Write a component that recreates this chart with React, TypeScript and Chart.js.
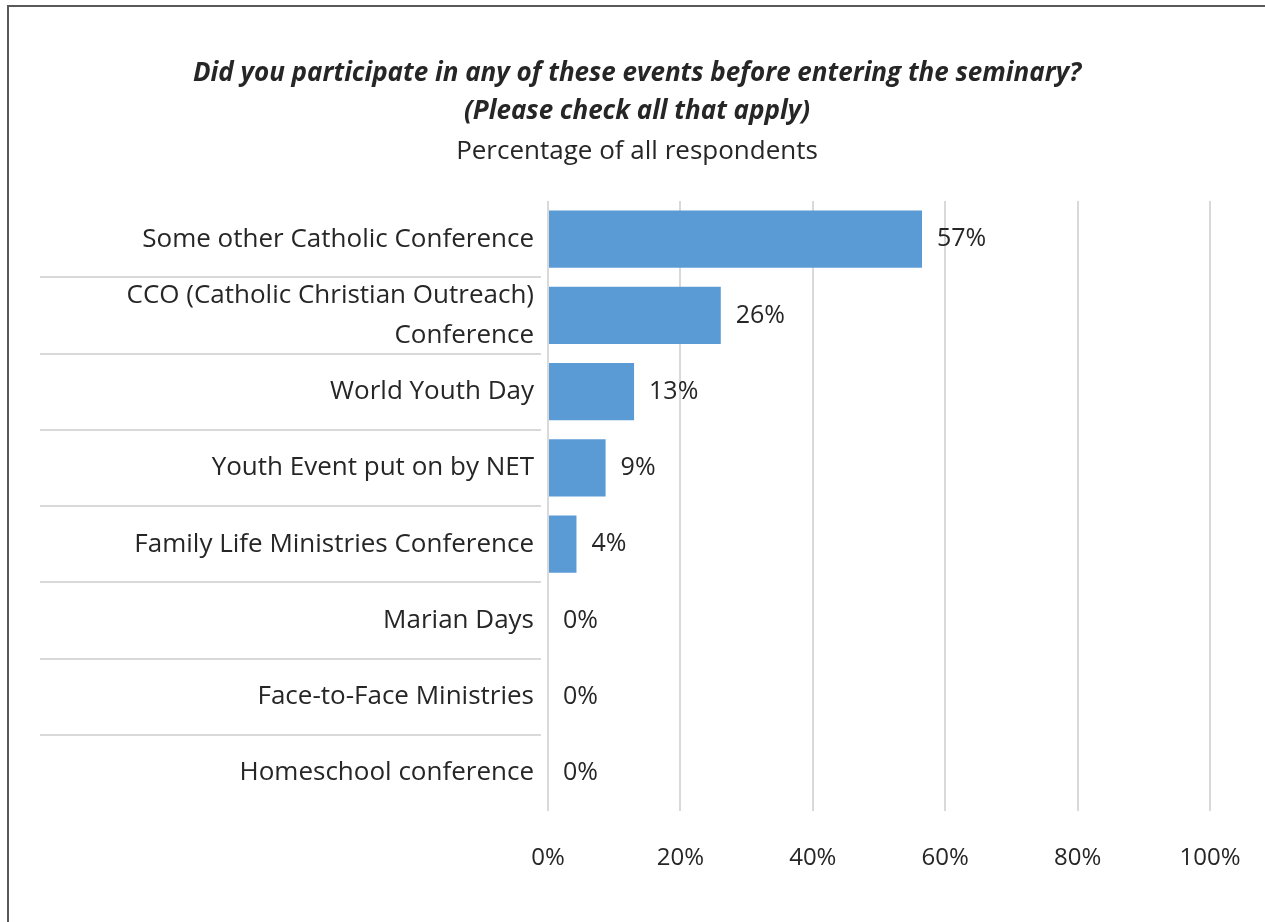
import React, { useEffect, useRef } from "react";
import { Chart, registerables } from "chart.js";

Chart.register(...registerables);

const categories: (string | string[])[] = [
  "Some other Catholic Conference",
  ["CCO (Catholic Christian Outreach)", "Conference"],
  "World Youth Day",
  "Youth Event put on by NET",
  "Family Life Ministries Conference",
  "Marian Days",
  "Face-to-Face Ministries",
  "Homeschool conference",
];
const values: number[] = [56.5, 26.1, 13.0, 8.7, 4.3, 0, 0, 0];
const valueLabels: string[] = ["57%", "26%", "13%", "9%", "4%", "0%", "0%", "0%"];
const xTicks: number[] = [0, 20, 40, 60, 80, 100];

const titleLines = [
  "Did you participate in any of these events before entering the seminary?",
  "(Please check all that apply)",
];
const subtitleText = "Percentage of all respondents";

const FONT = "'Open Sans', sans-serif";
const TEXT = "#262626";
const GRID = "#d9d9d9";
const BAR = "#5b9bd5";
const PAD_LEFT = 64;

const decorPlugin = {
  id: "decor",
  beforeDraw(chart: any) {
    const ctx = chart.ctx;
    ctx.save();
    ctx.fillStyle = "#ffffff";
    ctx.fillRect(0, 0, chart.width, chart.height);
    ctx.strokeStyle = "#595959";
    ctx.lineWidth = 2;
    ctx.strokeRect(8, 6, chart.width + 20, chart.height + 20);
    const y = chart.scales.y;
    const n = categories.length;
    ctx.strokeStyle = GRID;
    ctx.lineWidth = 2;
    for (let i = 0; i < n - 1; i++) {
      const yy = (y.getPixelForValue(i) + y.getPixelForValue(i + 1)) / 2;
      ctx.beginPath();
      ctx.moveTo(40, Math.round(yy));
      ctx.lineTo(chart.chartArea.left - 7, Math.round(yy));
      ctx.stroke();
    }
    ctx.restore();
  },
  afterDatasetsDraw(chart: any) {
    const ctx = chart.ctx;
    const meta = chart.getDatasetMeta(0);
    ctx.save();
    ctx.fillStyle = TEXT;
    ctx.font = `25px ${FONT}`;
    ctx.textAlign = "left";
    ctx.textBaseline = "middle";
    meta.data.forEach((bar: any, i: number) => {
      ctx.fillText(valueLabels[i], bar.x + 15, bar.y);
    });
    ctx.restore();
  },
};

export default function App() {
  const ref = useRef<HTMLCanvasElement | null>(null);
  useEffect(() => {
    document.body.style.margin = "0";
    const canvas = ref.current;
    if (!canvas) return;
    const chart = new Chart(canvas, {
      type: "bar",
      data: {
        labels: categories,
        datasets: [
          {
            data: values,
            backgroundColor: BAR,
            borderWidth: 0,
            barPercentage: 0.75,
            categoryPercentage: 1,
          },
        ],
      },
      options: {
        indexAxis: "y",
        responsive: false,
        animation: false,
        layout: { padding: { left: PAD_LEFT, right: 55, top: 52, bottom: 0 } },
        plugins: {
          legend: { display: false },
          tooltip: { enabled: false },
          title: {
            display: true,
            text: titleLines,
            color: TEXT,
            font: { family: FONT, size: 26, style: "italic", weight: "bold", lineHeight: 38 / 26 },
            padding: { top: 3, bottom: 2 },
          },
          subtitle: {
            display: true,
            text: subtitleText,
            color: TEXT,
            font: { family: FONT, size: 26, lineHeight: 33 / 26 },
            padding: { top: 2, bottom: 33 },
          },
        },
        scales: {
          x: {
            min: 0,
            max: 100,
            afterBuildTicks(scale: any) {
              scale.ticks = xTicks.map((v) => ({ value: v }));
            },
            afterFit(scale: any) {
              scale.height = 111;
              scale.paddingRight = 0;
              scale.paddingLeft = 0;
            },
            ticks: {
              color: TEXT,
              font: { family: FONT, size: 24 },
              padding: 33,
              callback: (v: any) => `${v}%`,
            },
            grid: { color: GRID, lineWidth: 2, drawTicks: false },
            border: { display: false },
          },
          y: {
            afterFit(scale: any) {
              scale.width = 548 - PAD_LEFT;
            },
            ticks: {
              autoSkip: false,
              color: TEXT,
              font: { family: FONT, size: 26, lineHeight: 40 / 26 },
              padding: 14,
            },
            grid: { display: false, drawTicks: false },
            border: { display: false },
          },
        },
      },
      plugins: [decorPlugin],
    });
    return () => chart.destroy();
  }, []);
  return (
    <div style={{ position: "absolute", left: 0, top: 0, width: 1265, height: 922 }}>
      <canvas ref={ref} width={1265} height={922} />
    </div>
  );
}
